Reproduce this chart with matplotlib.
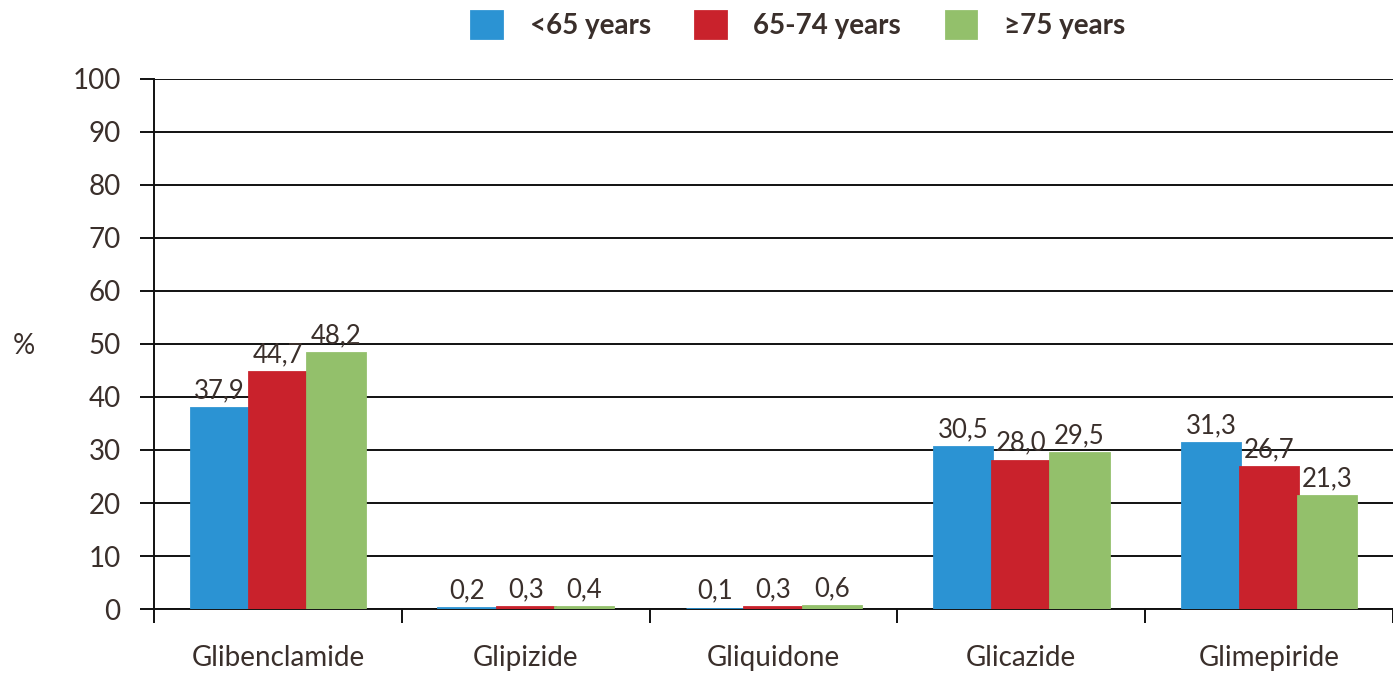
import matplotlib.pyplot as plt
import numpy as np

drugs = ["Glibenclamide", "Glipizide", "Gliquidone", "Glicazide", "Glimepiride"]
groups = ["<65 years", "65-74 years", "\u226575 years"]
under65 = [37.9, 0.2, 0.1, 30.5, 31.3]
age65_74 = [44.7, 0.3, 0.3, 28.0, 26.7]
over75 = [48.2, 0.4, 0.6, 29.5, 21.3]
colors = ["#2b93d3", "#c9222c", "#93c06b"]

txt = "#3a2f2b"
plt.rcParams["font.family"] = ["Lato", "DejaVu Sans"]

fig = plt.figure(figsize=(13.93, 6.79), dpi=100)
ax = fig.add_axes([0.1106, 0.103, 0.8894, 0.781])

x = np.arange(len(drugs))
w = 0.235
for i, (vals, c, lab) in enumerate(zip([under65, age65_74, over75], colors, groups)):
    pos = x + (i - 1) * w
    ax.bar(pos, vals, width=w, color=c, edgecolor=c, linewidth=2, label=lab, zorder=6)
    for p, v in zip(pos, vals):
        ax.text(p, v + 0.9, f"{v:.1f}".replace(".", ","), ha="center", va="bottom",
                fontsize=18.5, color=txt, zorder=7)

ax.set_xlim(-0.5, len(drugs) - 0.5)
ax.set_ylim(0, 100)
ax.set_yticks(range(0, 101, 10))
ax.yaxis.grid(True, color="#111111", linewidth=1.4, zorder=0)
ax.tick_params(axis="y", length=10, width=1.4, color="#111111", labelsize=20,
               labelcolor=txt, pad=14)

ax.set_xticks(np.arange(-0.5, len(drugs), 1.0))
ax.set_xticklabels([])
ax.set_xticks(x, minor=True)
ax.set_xticklabels(drugs, minor=True)
ax.tick_params(axis="x", which="major", length=10, width=1.4, color="#111111")
ax.tick_params(axis="x", which="minor", length=0, labelsize=20, labelcolor=txt, pad=26)

for s in ["top", "right"]:
    ax.spines[s].set_visible(False)
for s in ["left", "bottom"]:
    ax.spines[s].set_color("#111111")
    ax.spines[s].set_linewidth(1.4)
ax.spines["bottom"].set_zorder(5)

fig.text(0.009, 0.49, "%", fontsize=20, color=txt, ha="left", va="center")

fig.legend(loc="center", bbox_to_anchor=(0.573, 0.963), ncol=3, frameon=False,
           prop={"weight": "bold", "size": 20}, labelcolor=txt,
           handlelength=1.1, handleheight=1.1, columnspacing=1.6, handletextpad=1.0)

fig.savefig("out.png", dpi=100)
